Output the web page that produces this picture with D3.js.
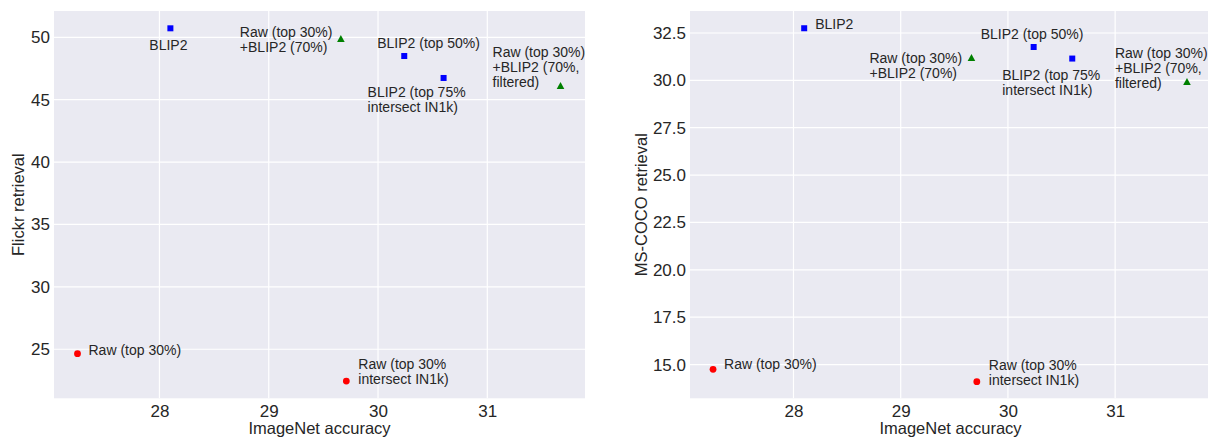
<!DOCTYPE html>
<html><head><meta charset="utf-8">
<script src="https://cdn.jsdelivr.net/npm/d3@7"></script>
<style>
html,body{margin:0;padding:0;background:#fff;}
svg{display:block;font-family:"Liberation Sans",Arial,sans-serif;}
</style></head>
<body>
<svg id="chart" width="1208" height="437"></svg>
<script>
// ---- data ----
const labels = ["Raw (top 30%)", "Raw (top 30%\nintersect IN1k)", "BLIP2", "BLIP2 (top 50%)",
  "BLIP2 (top 75%\nintersect IN1k)", "Raw (top 30%)\n+BLIP2 (70%)", "Raw (top 30%)\n+BLIP2 (70%,\nfiltered)"];
const groups = ["raw", "raw", "blip2", "blip2", "blip2", "mix", "mix"];
const imagenet = [27.25, 29.71, 28.10, 30.24, 30.60, 29.66, 31.67];
const flickr = [24.65, 22.45, 50.72, 48.50, 46.74, 49.86, 46.10];
const coco = [14.75, 14.10, 32.75, 31.76, 31.15, 31.18, 29.91];
const xTicks = [28, 29, 30, 31];
const flickrTicks = [25, 30, 35, 40, 45, 50];
const cocoTicks = [15.0, 17.5, 20.0, 22.5, 25.0, 27.5, 30.0, 32.5];

// ---- styling / layout ----
const colors = {raw: "#ff0000", blip2: "#0000ff", mix: "#008000"};
const textColor = "#262626";
// label offsets (px) relative to point: [dx, dy of first baseline, anchor]
const flickrOffsets = [[11, 1.5, "start"], [12, -12.5, "start"], [-2, 22, "middle"], [-27, -8.5, "start"],
  [-76, 19.5, "start"], [-101, -2, "start"], [-68, -29, "start"]];
const cocoOffsets = [[11, 0, "start"], [12, -12, "start"], [11, 0.5, "start"], [-53, -8.5, "start"],
  [-70, 21.5, "start"], [-102, 5, "start"], [-72, -24, "start"]];

const svg = d3.select("#chart");

function panel(cfg) {
  const x = d3.scaleLinear().domain([27.035, 31.894]).range([cfg.left, cfg.right]);
  const y = d3.scaleLinear().domain(cfg.yDomain).range([398.3, 11]);
  const g = svg.append("g");
  g.append("rect").attr("x", cfg.left).attr("y", 11)
    .attr("width", cfg.right - cfg.left).attr("height", 398.3 - 11).attr("fill", "#eaeaf2");
  // grid
  g.selectAll(".vg").data(xTicks).enter().append("line")
    .attr("x1", d => x(d)).attr("x2", d => x(d)).attr("y1", 11).attr("y2", 398.3)
    .attr("stroke", "#fff").attr("stroke-width", 1.2);
  g.selectAll(".hg").data(cfg.yTicks).enter().append("line")
    .attr("x1", cfg.left).attr("x2", cfg.right).attr("y1", d => y(d)).attr("y2", d => y(d))
    .attr("stroke", "#fff").attr("stroke-width", 1.2);
  // axes (labels only)
  const xa = g.append("g").attr("transform", "translate(0,398.3)")
    .call(d3.axisBottom(x).tickValues(xTicks).tickSize(0).tickPadding(5).tickFormat(d3.format("d")));
  const ya = g.append("g").attr("transform", `translate(${cfg.left},0)`)
    .call(d3.axisLeft(y).tickValues(cfg.yTicks).tickSize(0).tickPadding(4).tickFormat(cfg.fmt));
  [xa, ya].forEach(a => {
    a.select(".domain").remove();
    a.selectAll("text").attr("fill", textColor).style("font-size", "17px")
      .style("font-family", '"Liberation Sans",Arial,sans-serif');
  });
  xa.selectAll("text").attr("dy", "0.71em").attr("y", 7);
  g.append("text").attr("x", (cfg.left + cfg.right) / 2).attr("y", 434)
    .attr("text-anchor", "middle").attr("fill", textColor).style("font-size", "16.5px")
    .text("ImageNet accuracy");
  g.append("text").attr("transform", `translate(${cfg.yLabelX},${(11 + 398.3) / 2}) rotate(-90)`)
    .attr("text-anchor", "middle").attr("fill", textColor).style("font-size", "16.5px")
    .text(cfg.yLabel);

  const pts = labels.map((l, i) => ({label: l, grp: groups[i], x: imagenet[i], y: cfg.values[i], off: cfg.offsets[i]}));
  // markers
  pts.forEach(p => {
    const px = x(p.x), py = y(p.y);
    if (p.grp === "raw") {
      g.append("circle").attr("cx", px).attr("cy", py).attr("r", 3.4).attr("fill", colors.raw);
    } else if (p.grp === "blip2") {
      g.append("rect").attr("x", px - 3).attr("y", py - 3).attr("width", 6).attr("height", 6).attr("fill", colors.blip2);
    } else {
      g.append("path").attr("transform", `translate(${px},${py})`)
        .attr("d", "M0,-4 L3.8,3 L-3.8,3 Z").attr("fill", colors.mix);
    }
    const t = g.append("text").attr("fill", textColor).style("font-size", "14px")
      .attr("text-anchor", p.off[2]);
    p.label.split("\n").forEach((line, k) => {
      t.append("tspan").attr("x", px + p.off[0]).attr("y", py + p.off[1] + k * 15).text(line);
    });
  });
}

panel({left: 54, right: 585, yDomain: [21.07, 52.107], yTicks: flickrTicks, fmt: d3.format("d"),
  values: flickr, offsets: flickrOffsets, yLabel: "Flickr retrieval", yLabelX: 24});
panel({left: 690, right: 1211, yDomain: [13.22, 33.66], yTicks: cocoTicks, fmt: d3.format(".1f"),
  values: coco, offsets: cocoOffsets, yLabel: "MS-COCO retrieval", yLabelX: 647});
</script>
</body></html>
